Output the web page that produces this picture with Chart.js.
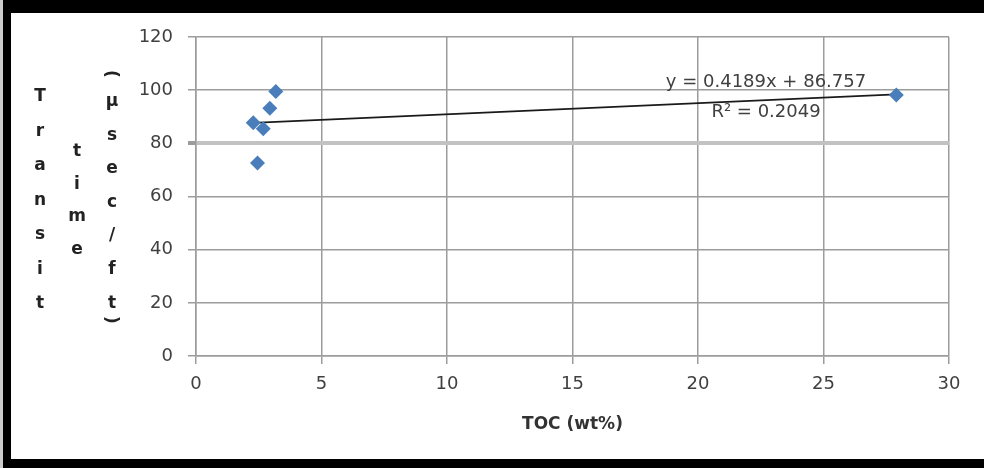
<!DOCTYPE html>
<html>

<head>
    <meta charset="UTF-8">
    <title>Transit time vs TOC</title>
    <script src="https://cdn.jsdelivr.net/npm/chart.js"></script>
    <style>
        body {
            margin: 0;
            width: 984px;
            height: 468px;
            overflow: hidden;
            background: white;
            position: relative;
            font-family: "DejaVu Sans", sans-serif;
        }

        #myChart {
            position: absolute;
            left: 0;
            top: 0;
        }

        .frame {
            position: absolute;
            background: black;
        }

        .ytitle span {
            position: absolute;
            font-weight: bold;
            font-size: 17px;
            color: #222;
            transform: translate(-50%, -50%);
        }

        .eq {
            position: absolute;
            font-size: 18px;
            color: #404040;
            transform: translate(-50%, -50%);
            white-space: nowrap;
        }
    </style>
</head>

<body>
    <canvas id="myChart" width="984" height="468" style="width:984px; height:468px;"></canvas>

    <!-- black frame of the original picture -->
    <div class="frame" style="left:0; top:0; width:984px; height:13px;"></div>
    <div class="frame" style="left:3px; top:0; width:8px; height:468px;"></div>
    <div class="frame" style="left:3px; top:459px; width:981px; height:9px;"></div>
    <div class="frame" style="left:0; top:0; width:3px; height:468px; background:#ccc;"></div>

    <div class="ytitle" id="ytitle"></div>

    <div class="eq" style="left:766px; top:80px;">y = 0.4189x + 86.757</div>
    <div class="eq" style="left:766px; top:110px;">R² = 0.2049</div>

    <script>
        // data
        const tocValues = [2.28, 2.68, 2.45, 2.94, 3.18, 27.9];
        const transitValues = [87.7, 85.5, 72.6, 93.2, 99.5, 98.2];
        const trendSlope = 0.4189;
        const trendIntercept = 86.757;
        const xTicks = [0, 5, 10, 15, 20, 25, 30];
        const yTicks = [0, 20, 40, 60, 80, 100, 120];

        // vertical stacked y axis title, three columns like the original
        const titleCols = [
            { x: 40, top: 95, step: 34.5, letters: ["T", "r", "a", "n", "s", "i", "t"] },
            { x: 77, top: 150, step: 32.7, letters: ["t", "i", "m", "e"] },
            { x: 112, top: 100, step: 33.6, letters: ["µ", "s", "e", "c", "/", "f", "t"] }
        ];
        let html = "";
        titleCols.forEach(function (col) {
            col.letters.forEach(function (ch, i) {
                html += '<span style="left:' + col.x + 'px; top:' + (col.top + i * col.step) + 'px;">' + ch + '</span>';
            });
        });
        html += '<span style="left:112px; top:74px; transform:translate(-50%,-50%) rotate(90deg);">(</span>';
        html += '<span style="left:112px; top:320px; transform:translate(-50%,-50%) rotate(90deg);">)</span>';
        document.getElementById("ytitle").innerHTML = html;

        const points = tocValues.map(function (v, i) {
            return { x: v, y: transitValues[i] };
        });
        const xMin = Math.min.apply(null, tocValues);
        const xMax = Math.max.apply(null, tocValues);
        const trend = [
            { x: xMin, y: trendIntercept + trendSlope * xMin },
            { x: xMax, y: trendIntercept + trendSlope * xMax }
        ];

        const tickFont = { family: "DejaVu Sans", size: 18 };
        const gridGray = "#9c9c9c";

        const ctx = document.getElementById('myChart');
        const myChart = new Chart(ctx, {
            type: 'scatter',
            data: {
                datasets: [{
                    label: 'Transit time',
                    data: points,
                    pointStyle: 'rectRot',
                    pointRadius: 7.5,
                    backgroundColor: '#4a7ebb',
                    borderColor: '#4a7ebb',
                    borderWidth: 0
                },
                {
                    label: 'Linear',
                    type: 'line',
                    data: trend,
                    borderColor: '#1a1a1a',
                    borderWidth: 1.8,
                    pointRadius: 0,
                    fill: false
                }]
            },
            options: {
                responsive: false,
                animation: false,
                devicePixelRatio: 1,
                layout: {
                    padding: { left: 0, top: 37, right: 35, bottom: 0 }
                },
                plugins: {
                    legend: { display: false },
                    tooltip: { enabled: false }
                },
                scales: {
                    x: {
                        type: 'linear',
                        min: xTicks[0],
                        max: xTicks[xTicks.length - 1],
                        afterBuildTicks: function (scale) {
                            scale.ticks = xTicks.map(function (v) { return { value: v }; });
                        },
                        afterFit: function (scale) { scale.height = 112; },
                        ticks: {
                            font: tickFont,
                            color: '#404040',
                            padding: 10,
                            maxRotation: 0
                        },
                        grid: {
                            color: gridGray,
                            lineWidth: 1.5,
                            tickLength: 8,
                            tickColor: gridGray
                        },
                        border: { color: gridGray, width: 1.5 },
                        title: {
                            display: true,
                            text: 'TOC (wt%)',
                            color: '#333',
                            font: { family: "DejaVu Sans", size: 17, weight: 'bold' },
                            padding: { top: 4, bottom: 33 }
                        }
                    },
                    y: {
                        type: 'linear',
                        min: yTicks[0],
                        max: yTicks[yTicks.length - 1],
                        afterBuildTicks: function (scale) {
                            scale.ticks = yTicks.map(function (v) { return { value: v }; });
                        },
                        afterFit: function (scale) { scale.width = 196; },
                        ticks: {
                            font: tickFont,
                            color: '#404040',
                            padding: 15
                        },
                        grid: {
                            color: function (c) { return c.tick && c.tick.value === 80 ? '#c2c2c2' : gridGray; },
                            lineWidth: function (c) { return c.tick && c.tick.value === 80 ? 4 : 1.5; },
                            tickLength: 8,
                            tickColor: gridGray
                        },
                        border: { color: gridGray, width: 1.5 }
                    }
                }
            }
        });
    </script>

</body>

</html>
